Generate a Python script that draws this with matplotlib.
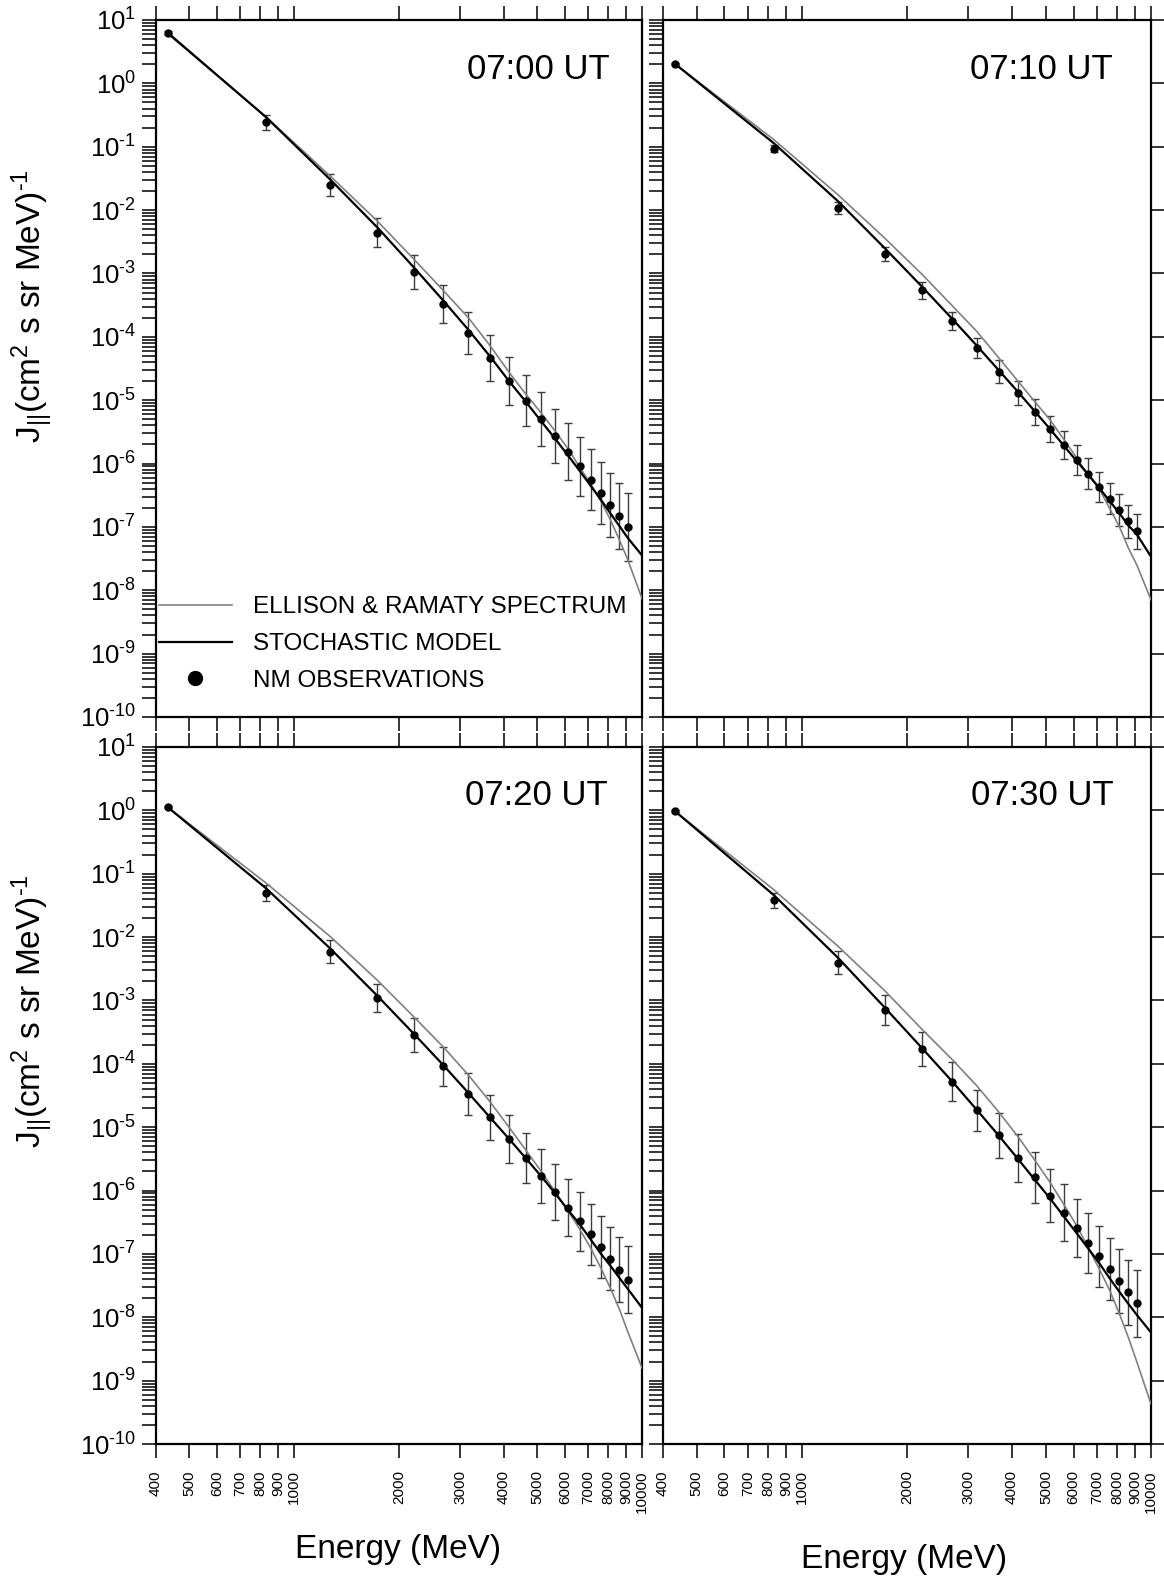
import matplotlib
matplotlib.use('Agg')
import matplotlib.pyplot as plt
import numpy as np
from matplotlib.ticker import FixedLocator, FixedFormatter, LogLocator, NullLocator, NullFormatter
from matplotlib.lines import Line2D

plt.rcParams['font.family'] = 'Liberation Sans'
plt.rcParams['mathtext.fontset'] = 'custom'
plt.rcParams['mathtext.rm'] = 'Liberation Sans'
plt.rcParams['mathtext.it'] = 'Liberation Sans:italic'
plt.rcParams['mathtext.default'] = 'regular'
plt.rcParams['axes.unicode_minus'] = False

# energies of the NM points (MeV) and of the model curves
energy = [433, 831, 1271, 1732, 2205, 2685, 3170, 3658, 4149, 4642,
          5136, 5631, 6124, 6620, 7117, 7613, 8110, 8608, 9106]
model_energy = [433, 831, 1271, 1732, 2205, 2685, 3170, 3658, 4149, 4642,
                5136, 5631, 6124, 6620, 7117, 7613, 8110, 8608, 9106, 10000]

# all fluxes below are log10 J (cm2 s sr MeV)^-1, errors in dex
obs_0700 = [0.80, -0.615, -1.599, -2.356, -2.972, -3.487, -3.94, -4.334, -4.693, -5.009,
            -5.297, -5.566, -5.813, -6.044, -6.255, -6.461, -6.655, -6.828, -7.002]
err_0700 = [0.03, 0.118, 0.176, 0.229, 0.271, 0.30, 0.33, 0.36, 0.379, 0.40,
            0.42, 0.43, 0.45, 0.47, 0.48, 0.49, 0.51, 0.52, 0.53]
stoch_0700 = [0.80, -0.535, -1.52, -2.27, -2.90, -3.43, -3.89, -4.31, -4.70, -5.03,
              -5.335, -5.61, -5.87, -6.115, -6.35, -6.57, -6.785, -6.985, -7.175, -7.45]
er_0700 = [0.78, -0.53, -1.465, -2.17, -2.77, -3.27, -3.70, -4.14, -4.56, -4.91,
           -5.205, -5.49, -5.765, -6.055, -6.32, -6.59, -6.885, -7.205, -7.52, -8.13]

obs_0710 = [0.307, -1.029, -1.965, -2.692, -3.267, -3.752, -4.175, -4.552, -4.885, -5.184,
            -5.454, -5.708, -5.945, -6.159, -6.368, -6.554, -6.734, -6.909, -7.072]
err_0710 = [0.02, 0.056, 0.09, 0.113, 0.13, 0.144, 0.163, 0.18, 0.186, 0.20,
            0.21, 0.223, 0.231, 0.24, 0.242, 0.242, 0.248, 0.262, 0.273]
stoch_0710 = [0.307, -0.945, -1.864, -2.608, -3.205, -3.707, -4.14, -4.524, -4.862, -5.173,
              -5.454, -5.72, -5.96, -6.176, -6.39, -6.593, -6.78, -6.976, -7.117, -7.47]
er_0710 = [0.307, -0.888, -1.762, -2.45, -3.01, -3.50, -3.915, -4.327, -4.693, -5.02,
           -5.31, -5.62, -5.91, -6.19, -6.40, -6.71, -6.99, -7.33, -7.60, -8.15]

obs_0720 = [0.051, -1.303, -2.232, -2.958, -3.542, -4.036, -4.474, -4.846, -5.184, -5.487,
            -5.769, -6.023, -6.27, -6.487, -6.693, -6.89, -7.073, -7.248, -7.41]
err_0720 = [0.02, 0.12, 0.18, 0.225, 0.268, 0.307, 0.335, 0.356, 0.38, 0.398,
            0.423, 0.437, 0.447, 0.465, 0.48, 0.49, 0.504, 0.518, 0.528]
stoch_0720 = [0.051, -1.232, -2.183, -2.923, -3.522, -4.022, -4.46, -4.847, -5.185, -5.495,
              -5.777, -6.045, -6.306, -6.531, -6.77, -6.996, -7.186, -7.377, -7.553, -7.85]
er_0720 = [0.051, -1.148, -1.993, -2.677, -3.255, -3.734, -4.178, -4.60, -5.002, -5.368,
           -5.70, -6.02, -6.32, -6.61, -6.905, -7.22, -7.54, -7.87, -8.23, -8.80]

obs_0730 = [-0.013, -1.422, -2.402, -3.149, -3.769, -4.283, -4.734, -5.129, -5.481, -5.791,
            -6.08, -6.348, -6.595, -6.827, -7.039, -7.236, -7.426, -7.609, -7.779]
err_0730 = [0.02, 0.116, 0.18, 0.233, 0.268, 0.307, 0.328, 0.36, 0.377, 0.40,
            0.416, 0.444, 0.455, 0.469, 0.48, 0.486, 0.507, 0.52, 0.532]
stoch_0730 = [-0.013, -1.338, -2.331, -3.12, -3.748, -4.269, -4.727, -5.129, -5.495, -5.827,
              -6.123, -6.411, -6.672, -6.919, -7.151, -7.384, -7.595, -7.786, -7.962, -8.24]
er_0730 = [-0.013, -1.253, -2.148, -2.853, -3.452, -3.924, -4.347, -4.756, -5.143, -5.517,
           -5.869, -6.222, -6.553, -6.905, -7.243, -7.574, -7.94, -8.314, -8.702, -9.37]

xticks = [400, 500, 600, 700, 800, 900, 1000, 2000, 3000, 4000,
          5000, 6000, 7000, 8000, 9000, 10000]
xtick_labels = ['400', '500', '600', '700', '800', '900', '1000', '2000', '3000', '4000',
                '5000', '6000', '7000', '8000', '9000', '10000']
ydecades = list(range(-10, 2))

legend_labels = ['ELLISON & RAMATY SPECTRUM', 'STOCHASTIC MODEL', 'NM OBSERVATIONS']
# \text{-} keeps a short hyphen instead of the long math minus
ylabel = r'$J_{||}(cm^{2}\ s\ sr\ MeV)^{\text{-}1}$'

W, H = 1164, 1579
fig = plt.figure(figsize=(W / 100, H / 100), dpi=100)


def px_rect(x0, y0, x1, y1):
    return [x0 / W, 1 - y1 / H, (x1 - x0) / W, (y1 - y0) / H]


def exp_label(k):
    if k < 0:
        return r'$10^{\text{-}%d}$' % (-k)
    return r'$10^{%d}$' % k


panels = [
    # title, obs, err, stoch, er, rect (px), text x/y (axes), left column?, bottom row?
    ('07:00 UT', obs_0700, err_0700, stoch_0700, er_0700, (155.7, 20, 642, 717), 0.933, 0.915, True, False),
    ('07:10 UT', obs_0710, err_0710, stoch_0710, er_0710, (663, 20, 1151, 717), 0.922, 0.915, False, False),
    ('07:20 UT', obs_0720, err_0720, stoch_0720, er_0720, (155.7, 747, 642, 1444), 0.930, 0.917, True, True),
    ('07:30 UT', obs_0730, err_0730, stoch_0730, er_0730, (663, 747, 1151, 1444), 0.924, 0.917, False, True),
]

axes = []
for title, obs, err, stoch, er, rect, tx, ty, left_col, bottom_row in panels:
    ax = fig.add_axes(px_rect(*rect))
    axes.append(ax)
    e = np.array(energy, dtype=float)
    y = 10 ** np.array(obs)
    f = 10 ** np.array(err)
    ax.errorbar(e, y, yerr=[y - y / f, y * f - y], fmt='none', ecolor='#3c3c3c',
                elinewidth=1.0, capsize=3, capthick=1.0, zorder=2)
    ax.plot(model_energy, 10 ** np.array(er), color='#808080', lw=1.2, zorder=3)
    ax.plot(model_energy, 10 ** np.array(stoch), color='black', lw=1.6, zorder=4)
    ax.plot(e, y, 'o', color='black', ms=5, zorder=5)

    ax.set_xscale('log')
    ax.set_yscale('log')
    ax.set_xlim(400, 10000)
    ax.set_ylim(1e-10, 10)

    ax.xaxis.set_major_locator(FixedLocator(xticks))
    ax.xaxis.set_major_formatter(FixedFormatter(xtick_labels))
    ax.xaxis.set_minor_locator(NullLocator())
    ax.yaxis.set_major_locator(FixedLocator([10.0 ** k for k in ydecades]))
    ax.yaxis.set_major_formatter(FixedFormatter([exp_label(k) for k in ydecades]))
    ax.yaxis.set_minor_locator(LogLocator(base=10, subs=np.arange(2, 10), numticks=50))
    ax.yaxis.set_minor_formatter(NullFormatter())

    for s in ax.spines.values():
        s.set_linewidth(1.6)
    ax.tick_params(axis='both', which='both', direction='out', length=10, width=1.1)
    ax.tick_params(axis='x', top=True, bottom=True, labelbottom=bottom_row,
                   labelrotation=90, labelsize=11, pad=9)
    ax.tick_params(axis='y', left=True, right=not left_col, labelleft=left_col,
                   labelsize=18.5, pad=4)

    ax.text(tx, ty, title, transform=ax.transAxes, ha='right', va='baseline', fontsize=25)

handles = [Line2D([], [], color='#808080', lw=1.2),
           Line2D([], [], color='black', lw=1.6),
           Line2D([], [], marker='o', ls='none', color='black', ms=10)]
axes[0].legend(handles, legend_labels, loc='upper left', bbox_to_anchor=(0.006, 0.173),
               frameon=False, fontsize=17.5, handlelength=3.0, handletextpad=0.9,
               labelspacing=0.6, borderpad=0, borderaxespad=0)

fig.text(33 / W, 1 - 306 / H, ylabel, rotation=90, ha='center', va='center', fontsize=24)
fig.text(33 / W, 1 - 1011 / H, ylabel, rotation=90, ha='center', va='center', fontsize=24)
fig.text(398 / W, 1 - 1558 / H, 'Energy (MeV)', ha='center', va='baseline', fontsize=24)
fig.text(904 / W, 1 - 1568 / H, 'Energy (MeV)', ha='center', va='baseline', fontsize=24)

fig.savefig('out.png', dpi=100)
